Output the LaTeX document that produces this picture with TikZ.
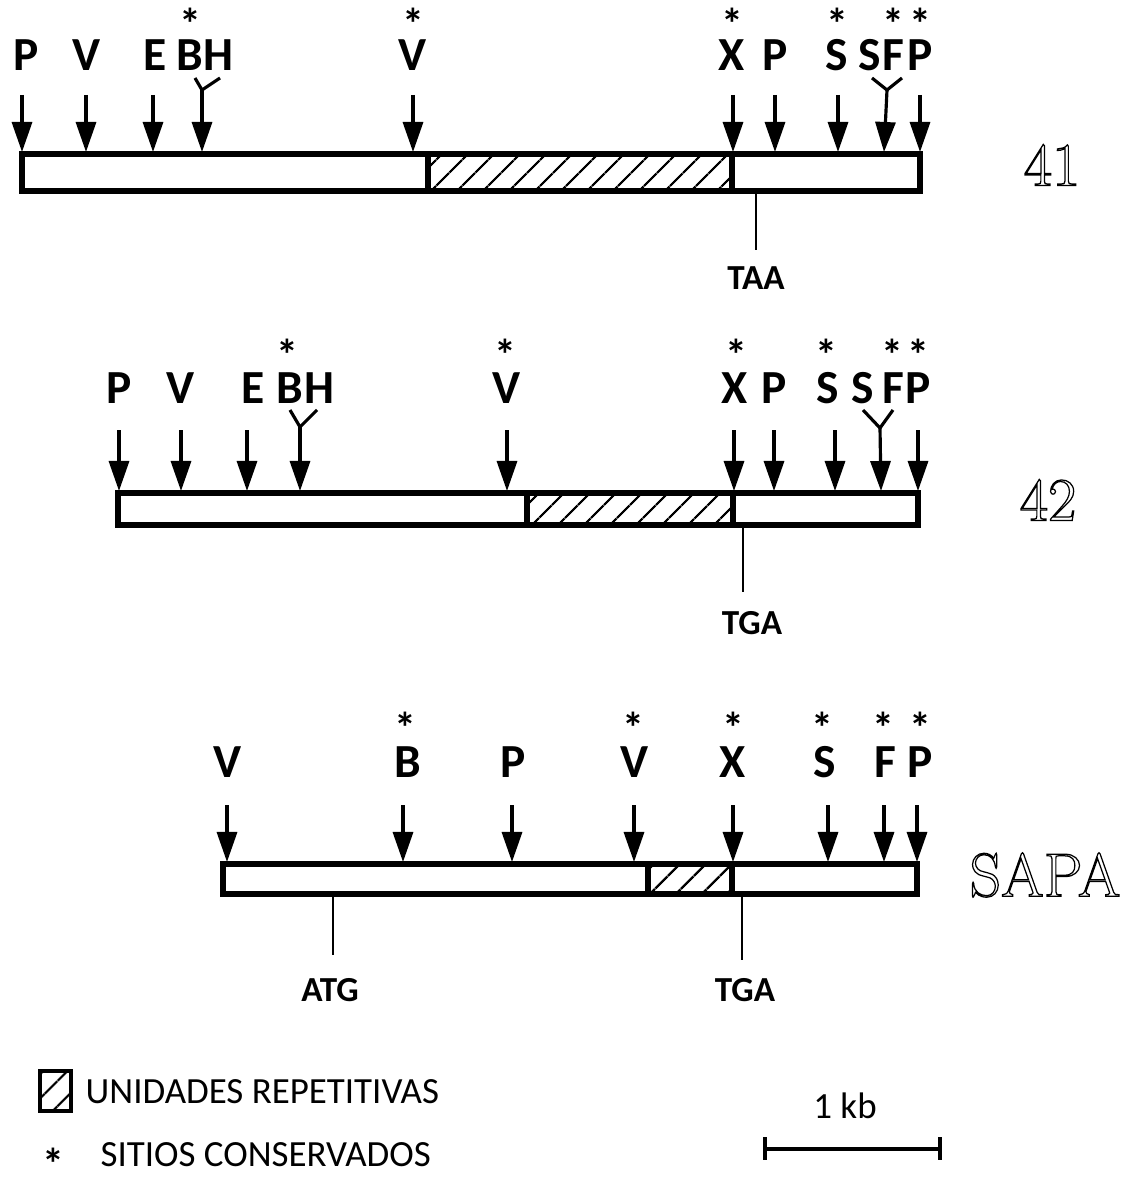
\documentclass[tikz,border=0pt]{standalone}
\usepackage{fontspec}
\setsansfont{Carlito}
\usetikzlibrary{arrows.meta,patterns.meta}
\newcommand{\outlined}[1]{\special{pdf:literal direct 1 Tr 0.35 w}#1\special{pdf:literal direct 0 Tr}}
\newcommand{\consstar}{\raisebox{-0.33em}[0.3em][0pt]{*}}
\tikzset{
  mapbox/.style={line width=1.5pt},
  repbox/.style={line width=1.5pt,pattern={Lines[angle=45,distance=1.8mm,line width=0.7pt]}},
  sitearrow/.style={-{Triangle[length=3mm,width=2mm]},line width=0.9pt},
  forkline/.style={line width=0.9pt},
  sitelabel/.style={font=\sffamily\bfseries\fontsize{13.5}{13.5}\selectfont,inner sep=0pt},
  sitestar/.style={font=\sffamily\bfseries\fontsize{12.5}{12.5}\selectfont,inner sep=0pt},
  codonline/.style={line width=0.8pt},
  codonlabel/.style={font=\sffamily\bfseries\fontsize{10}{10}\selectfont,inner sep=0pt},
  clonename/.style={font=\rmfamily\fontsize{17.5}{17.5}\selectfont,inner sep=0pt},
  legendtext/.style={font=\sffamily\fontsize{10.5}{10.5}\selectfont,inner sep=0pt,anchor=west}
}
\begin{document}
\begin{tikzpicture}[x=0.01cm,y=-0.01cm]
  \useasboundingbox[fill=white] (0,0) rectangle (1121,1188);

  % clone 41
  \draw[mapbox] (22,154) rectangle (920,191);
  \draw[repbox] (428,154) rectangle (732,191);
  \foreach \x in {22,86,153,413,733,775,838,920}
    \draw[sitearrow] (\x,95) -- (\x,152);
  \draw[forkline] (195,78) -- (202,90) -- (220,78);
  \draw[sitearrow] (202,90) -- (202,152);
  \draw[forkline] (872,78) -- (887,90) -- (902,78);
  \draw[sitearrow] (887,90) -- (884,152);
  \foreach \x/\t [count=\i] in {26/P,87/V,155/E,190/B,218/H,413/V,
      732/X,775/P,837/S,870/S,893/F,920/P}
    \node[sitelabel] (la\i) at (\x,55) {\t};
  \foreach \x [count=\i] in {190,413,732,837,893,920}
    \node[sitestar] (sa\i) at (\x,18) {\consstar};
  \draw[codonline] (756,191) -- (756,250);
  \node[codonlabel] (taa) at (756,278) {TAA};
  \node[clonename] (c41) at (1052,165) {\outlined{41}};

  % clone 42
  \draw[mapbox] (118,493) rectangle (918,525);
  \draw[repbox] (527,493) rectangle (733,525);
  \foreach \x in {119,181,247,507,734,774,835,918}
    \draw[sitearrow] (\x,430) -- (\x,491);
  \draw[forkline] (290,410) -- (300,427) -- (317,410);
  \draw[sitearrow] (300,427) -- (300,491);
  \draw[forkline] (863,410) -- (880,428) -- (893,410);
  \draw[sitearrow] (880,428) -- (881,491);
  \foreach \x/\t [count=\i] in {119/P,181/V,253/E,290/B,319/H,507/V,
      735/X,774/P,828/S,863/S,893/F,918/P}
    \node[sitelabel] (lb\i) at (\x,388) {\t};
  \foreach \x [count=\i] in {287,505,736,826,892,918}
    \node[sitestar] (sb\i) at (\x,349) {\consstar};
  \draw[codonline] (743,525) -- (743,592);
  \node[codonlabel] (tgab) at (752,623) {TGA};
  \node[clonename] (c42) at (1048,500) {\outlined{42}};

  % clone SAPA
  \draw[mapbox] (223,864) rectangle (917,894);
  \draw[repbox] (648,864) rectangle (732,894);
  \foreach \x in {227,403,512,634,733,828,884,917}
    \draw[sitearrow] (\x,805) -- (\x,862);
  \foreach \x/\t [count=\i] in {228/V,408/B,513/P,635/V,733/X,825/S,885/F,920/P}
    \node[sitelabel] (lc\i) at (\x,762) {\t};
  \foreach \x [count=\i] in {405,633,733,822,883,920}
    \node[sitestar] (sc\i) at (\x,722) {\consstar};
  \draw[codonline] (333,894) -- (333,955);
  \node[codonlabel] (atg) at (330,990) {ATG};
  \draw[codonline] (742,894) -- (742,960);
  \node[codonlabel] (tgac) at (745,990) {TGA};
  \node[clonename] (csapa) at (1045,875) {\outlined{SAPA}};

  % legend
  \draw[repbox,line width=1.2pt] (40,1071) rectangle (71,1111);
  \node[legendtext] (rep) at (85,1092) {UNIDADES REPETITIVAS};
  \node[sitestar] (cstar) at (53,1158) {\consstar};
  \node[legendtext] (cons) at (100,1155) {SITIOS CONSERVADOS};

  % scale bar
  \node[legendtext,anchor=center] (kb) at (845,1106) {1 kb};
  \draw[line width=1.3pt] (765,1149) -- (940,1149);
  \draw[line width=1pt] (765,1137) -- (765,1160);
  \draw[line width=1pt] (940,1137) -- (940,1160);
\end{tikzpicture}
\end{document}
